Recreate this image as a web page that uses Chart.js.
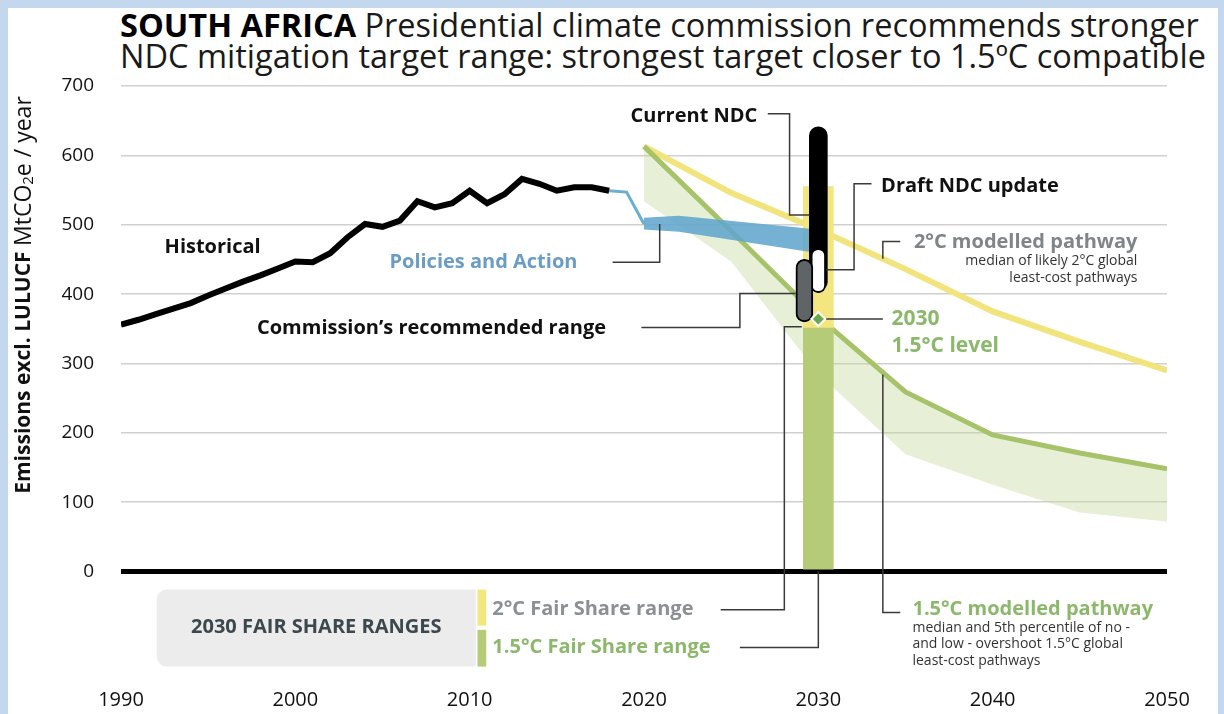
<!DOCTYPE html>
<html>
<head>
<meta charset="utf-8">
<script src="https://cdn.jsdelivr.net/npm/chart.js@4.4.1/dist/chart.umd.min.js"></script>
<style>
  html, body { margin: 0; padding: 0; }
  body { width: 1224px; height: 714px; background: #c3d8ee; position: relative; overflow: hidden; font-family: "Open Sans", sans-serif; }
  #frame { position: absolute; left: 8px; top: 8px; width: 1210px; height: 706px; background: #fff; }
  #title { position: absolute; left: 120px; top: 9px; font-size: 32.5px; line-height: 31px; color: #1a1a1a; white-space: nowrap; }
  #title b { font-weight: 700; color: #000; }
  canvas { position: absolute; left: 0; top: 0; }
</style>
</head>
<body>
<div id="frame"></div>
<div id="title"><b>SOUTH AFRICA</b> Presidential climate commission recommends stronger<br>NDC mitigation target range: strongest target closer to 1.5ºC compatible</div>
<canvas id="myChart" width="1224" height="714"></canvas>
<script>
// historical emissions excl. LULUCF (MtCO2e)
const histYears = [1990, 1991, 1992, 1993, 1994, 1995, 1996, 1997, 1998, 1999, 2000, 2001, 2002, 2003, 2004,
  2005, 2006, 2007, 2008, 2009, 2010, 2011, 2012, 2013, 2014, 2015, 2016, 2017, 2018];
const historical = [356, 363, 371, 379, 387, 398, 408, 418, 427, 437, 447, 446, 459, 482, 501,
  497, 506, 534, 525, 531, 549, 531, 544, 566, 559, 549, 554, 554, 549];

// policies and action projection
const policyYears = [2018, 2019, 2020];
const policyLine = [549, 547, 501];
const bandYears = [2020, 2022, 2030];
const policyUpper = [510, 513, 493];
const policyLower = [493, 490, 459];

// modelled pathways
const pathYears = [2020, 2025, 2030, 2035, 2040, 2045, 2050];
const twoDegree = [613, 546, 493, 436, 375, 331, 290];
const onePointFive = [613, 491, 367, 259, 197, 171, 148];
const onePointFiveLow = [534, 447, 285, 169, 125, 85, 72];

// 2030 ranges
const targetYear = 2030;
const commissionYear = 2029.2;
const fairShare2 = [351, 555];
const fairShare15 = [0, 351];
const currentNdc = [405, 641];
const draftNdc = [402, 466];
const commissionRange = [360, 450];
const level15 = 364;

const xTicks = [1990, 2000, 2010, 2020, 2030, 2040, 2050];
const yTicks = [0, 100, 200, 300, 400, 500, 600, 700];

const FONT = '"Open Sans", sans-serif';
const GREEN_TXT = '#8cb86c';

const pts = (xs, ys) => xs.map((x, i) => ({ x: x, y: ys[i] }));

// labels and leader lines, placed in data units
const notes = [
  { t: 'Historical', x: 1992.5, y: 467, c: '#111' },
  { t: 'Policies and Action', x: 2005.4, y: 446, c: '#6b9dc4' },
  { t: 'Current NDC', x: 2026.5, y: 657, c: '#111', a: 'right' },
  { t: 'Draft NDC update', x: 2033.6, y: 556, c: '#111' },
  { t: '2°C modelled pathway', x: 2048.3, y: 475, c: '#7f8589', a: 'right' },
  { t: 'median of likely 2°C global', x: 2048.3, y: 448, c: '#333', a: 'right', w: 400, s: 14 },
  { t: 'least-cost pathways', x: 2048.3, y: 423.5, c: '#333', a: 'right', w: 400, s: 14 },
  { t: '2030', x: 2034.2, y: 364, c: GREEN_TXT, s: 21 },
  { t: '1.5°C level', x: 2034.2, y: 325.5, c: GREEN_TXT, s: 21 },
  { t: 'Commission’s recommended range', x: 1997.8, y: 351, c: '#111' },
  { t: '2°C Fair Share range', x: 2011.3, y: -55, c: '#8b9094' },
  { t: '1.5°C Fair Share range', x: 2011.3, y: -109.5, c: GREEN_TXT },
  { t: '1.5°C modelled pathway', x: 2035.4, y: -55, c: GREEN_TXT },
  { t: 'median and 5th percentile of no -', x: 2035.4, y: -80.7, c: '#333', w: 400, s: 14 },
  { t: 'and low - overshoot 1.5°C global', x: 2035.4, y: -105, c: '#333', w: 400, s: 14 },
  { t: 'least-cost pathways', x: 2035.4, y: -129.6, c: '#333', w: 400, s: 14 }
];
const leaders = [
  [[2018.2, 446], [2020.9, 446], [2020.9, 501]],
  [[2027.1, 660], [2028.35, 660], [2028.35, 514], [2029.5, 514]],
  [[2033.05, 559], [2032.05, 559], [2032.05, 435], [2030.45, 435]],
  [[2033.7, 451], [2033.7, 476], [2034.7, 476]],
  [[2030.45, 364], [2033.7, 364]],
  [[2019.85, 352], [2025.5, 352], [2025.5, 401], [2028.7, 401]],
  [[2024.4, -55], [2028.05, -55], [2028.05, 353], [2029.05, 353]],
  [[2025.5, -109.5], [2030, -109.5], [2030, 0]],
  [[2033.7, 284], [2033.7, -59], [2034.7, -59]]
];

const annotate = {
  id: 'annotate',
  afterDatasetsDraw(chart) {
    const { ctx, scales: { x, y } } = chart;
    ctx.save();
    // fair share legend box
    const bx0 = x.getPixelForValue(1992.05), bx1 = x.getPixelForValue(2010.35);
    const by0 = y.getPixelForValue(-26), by1 = y.getPixelForValue(-137);
    ctx.fillStyle = '#ececec';
    ctx.beginPath();
    ctx.roundRect(bx0, by0, bx1 - bx0, by1 - by0, [10, 0, 0, 10]);
    ctx.fill();
    const sx0 = x.getPixelForValue(2010.45), sx1 = x.getPixelForValue(2010.95);
    ctx.fillStyle = '#f3e57f';
    ctx.fillRect(sx0, by0, sx1 - sx0, y.getPixelForValue(-78) - by0);
    ctx.fillStyle = '#b6cb78';
    ctx.fillRect(sx0, y.getPixelForValue(-84), sx1 - sx0, by1 - y.getPixelForValue(-84));
    ctx.fillStyle = '#3c484d';
    ctx.font = '700 20px ' + FONT;
    ctx.textAlign = 'center';
    ctx.textBaseline = 'middle';
    ctx.fillText('2030 FAIR SHARE RANGES', x.getPixelForValue(2001.2), y.getPixelForValue(-80.7));

    // leader lines
    ctx.strokeStyle = '#3a3a3a';
    ctx.lineWidth = 1.5;
    leaders.forEach(path => {
      ctx.beginPath();
      path.forEach((p, i) => {
        const px = x.getPixelForValue(p[0]), py = y.getPixelForValue(p[1]);
        if (i === 0) ctx.moveTo(px, py); else ctx.lineTo(px, py);
      });
      ctx.stroke();
    });

    // labels
    notes.forEach(n => {
      ctx.font = (n.w || 700) + ' ' + (n.s || 20) + 'px ' + FONT;
      ctx.fillStyle = n.c;
      ctx.textAlign = n.a || 'left';
      ctx.fillText(n.t, x.getPixelForValue(n.x), y.getPixelForValue(n.y));
    });
    ctx.restore();
  },
  afterDraw(chart) {
    // y axis title with bold part and subscript
    const ctx = chart.ctx;
    const parts = [
      { t: 'Emissions excl. LULUCF ', f: '700 21px ' + FONT, dy: 0 },
      { t: 'MtCO', f: '400 23px ' + FONT, dy: 0 },
      { t: '2', f: '400 15px ' + FONT, dy: 5 },
      { t: 'e / year', f: '400 23px ' + FONT, dy: 0 }
    ];
    ctx.save();
    ctx.translate(24, 295);
    ctx.rotate(-Math.PI / 2);
    ctx.textBaseline = 'middle';
    ctx.textAlign = 'left';
    ctx.fillStyle = '#111';
    let total = 0;
    parts.forEach(p => { ctx.font = p.f; p.w = ctx.measureText(p.t).width; total += p.w; });
    let cx = -total / 2;
    parts.forEach(p => { ctx.font = p.f; ctx.fillText(p.t, cx, p.dy); cx += p.w; });
    ctx.restore();
  }
};

const ctx = document.getElementById('myChart').getContext('2d');
const myChart = new Chart(ctx, {
  type: 'line',
  data: {
    datasets: [
      {
        type: 'scatter', data: [{ x: targetYear, y: level15 }], order: 0,
        pointStyle: 'rectRot', pointRadius: 7, backgroundColor: '#6aa84f', borderColor: '#fff', borderWidth: 2
      },
      {
        type: 'bar', data: [{ x: commissionYear, y: commissionRange }], order: 1, grouped: false,
        barThickness: 17, backgroundColor: '#5f6466', borderColor: '#000', borderWidth: 2,
        borderRadius: 9, borderSkipped: false
      },
      {
        type: 'bar', data: [{ x: targetYear, y: draftNdc }], order: 2, grouped: false,
        barThickness: 15, backgroundColor: '#fff', borderColor: '#000', borderWidth: 2,
        borderRadius: 8, borderSkipped: false
      },
      {
        type: 'bar', data: [{ x: targetYear, y: currentNdc }], order: 3, grouped: false,
        barThickness: 18, backgroundColor: '#000', borderWidth: 0,
        borderRadius: 9, borderSkipped: false
      },
      {
        data: pts(histYears, historical), order: 4,
        borderColor: '#000', borderWidth: 6, pointRadius: 0, borderJoinStyle: 'miter', tension: 0
      },
      {
        data: pts(policyYears, policyLine), order: 5,
        borderColor: '#6aaed2', borderWidth: 3, pointRadius: 0, tension: 0
      },
      {
        data: pts(bandYears, policyLower), order: 5,
        borderWidth: 0, pointRadius: 0, fill: false
      },
      {
        data: pts(bandYears, policyUpper), order: 5,
        borderWidth: 0, pointRadius: 0, fill: '-1', backgroundColor: 'rgba(98,166,205,0.88)'
      },
      {
        type: 'bar', data: [{ x: targetYear, y: fairShare15 }], order: 6, grouped: false,
        barThickness: 30, backgroundColor: '#b6cb78', borderWidth: 0
      },
      {
        type: 'bar', data: [{ x: targetYear, y: fairShare2 }], order: 7, grouped: false,
        barThickness: 30, backgroundColor: '#f3e57f', borderWidth: 0
      },
      {
        data: pts(pathYears, onePointFive), order: 8,
        borderColor: '#a6c36a', borderWidth: 5, pointRadius: 0, tension: 0
      },
      {
        data: pts(pathYears, twoDegree), order: 9,
        borderColor: '#f1e47c', borderWidth: 6, pointRadius: 0, tension: 0
      },
      {
        data: pts(pathYears, onePointFiveLow), order: 10,
        borderWidth: 0, pointRadius: 0, fill: { target: 10 }, backgroundColor: 'rgba(196,216,156,0.4)'
      }
    ]
  },
  options: {
    responsive: false,
    animation: false,
    events: [],
    layout: { padding: { top: 86, right: 57, left: 0, bottom: 0 } },
    plugins: { legend: { display: false }, tooltip: { enabled: false } },
    scales: {
      x: {
        type: 'linear', min: 1990, max: 2050, offset: false,
        afterFit: s => { s.height = 38; },
        afterBuildTicks: s => { s.ticks = xTicks.map(v => ({ value: v })); },
        grid: { display: false, drawTicks: false },
        border: { display: false },
        ticks: {
          padding: 13, color: '#111', font: { family: 'Open Sans', size: 20 }, maxRotation: 0, autoSkip: false,
          callback: v => String(v)
        }
      },
      y: {
        min: -150, max: 700,
        afterFit: s => { s.width = 121; },
        afterBuildTicks: s => { s.ticks = yTicks.map(v => ({ value: v })); },
        grid: {
          drawTicks: false,
          color: c => c.tick && c.tick.value === 0 ? '#000' : '#d0d0d0',
          lineWidth: c => c.tick && c.tick.value === 0 ? 5 : 1.5
        },
        border: { display: false },
        ticks: { padding: 27, color: '#111', font: { family: 'Open Sans', size: 19 } }
      }
    }
  },
  plugins: [annotate]
});
</script>
</body>
</html>
